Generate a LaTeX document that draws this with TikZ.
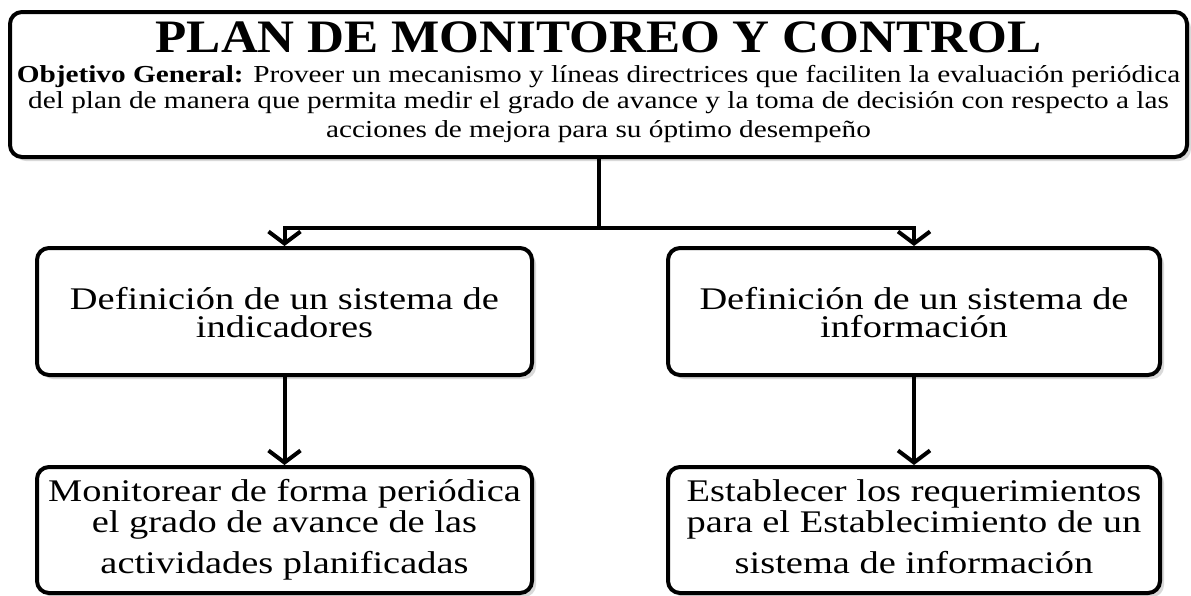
\documentclass[tikz,border=0pt]{standalone}
\usepackage{fontspec}
\setmainfont{Liberation Serif}
\newfontfamily\titlefont[FakeStretch=1.1]{Liberation Serif}
\newfontfamily\objfont[FakeStretch=1.2]{Liberation Serif}
\newfontfamily\bodyfont[FakeStretch=1.22]{Liberation Serif}
\usetikzlibrary{arrows.meta,shadows}
% centred lines with a fixed baseline pitch; baseline of the block = first line
\newcommand\mylines[2]{\vtop{\baselineskip=#1\lineskiplimit=-\maxdimen\lineskip=0pt
  \halign{\hfil##\hfil\cr#2\crcr}}}
\tikzset{
  box/.style={draw=black,line width=4pt,rounded corners=12pt,fill=white,inner sep=0pt,
    drop shadow={shadow xshift=4pt,shadow yshift=-4pt,fill=black!15,opacity=1}},
  conn/.style={draw=black,line width=4pt,line join=miter},
  arrowconn/.style={conn,-{Straight Barb[length=12pt,width=32pt]}},
  ttl/.style={anchor=base,inner sep=0pt,font=\titlefont\bfseries\fontsize{46.5}{46}\selectfont},
  obj/.style={anchor=base,inner sep=0pt,font=\objfont\fontsize{24.4}{26}\selectfont},
  txt/.style={anchor=base,inner sep=0pt,font=\bodyfont\fontsize{31.5}{28}\selectfont}
}
\begin{document}
\begin{tikzpicture}[x=1pt,y=-1pt]
\useasboundingbox[fill=white] (0,0) rectangle (1191,595);
% boxes
\node[box,minimum width=1177pt,minimum height=145pt] (top) at (598.5,84.5) {};
\node[box,minimum width=495pt,minimum height=127pt] (ml) at (284.5,311.5) {};
\node[box,minimum width=492pt,minimum height=127pt] (mr) at (914,311.5) {};
\node[box,minimum width=495pt,minimum height=126pt] (bl) at (284.5,530) {};
\node[box,minimum width=492pt,minimum height=126pt] (br) at (914,530) {};
% top texts
\node[ttl] (title) at (598.5,52) {PLAN DE MONITOREO Y CONTROL};
\node[obj] (o1) at (598.5,82) {\textbf{Objetivo General:} Proveer un mecanismo y líneas directrices que faciliten la evaluación periódica};
\node[obj] (o2) at (598.5,108) {del plan de manera que permita medir el grado de avance y la toma de decisión con respecto a las};
\node[obj] (o3) at (598.5,137) {acciones de mejora para su óptimo desempeño};
% middle texts
\node[txt] (mlt) at (284.5,309) {\mylines{28pt}{Definición de un sistema de\cr indicadores}};
\node[txt] (mrt) at (914,309) {\mylines{28pt}{Definición de un sistema de\cr información}};
% bottom texts
\node[txt] (blt) at (284.5,501) {\mylines{31pt}{Monitorear de forma periódica\cr el grado de avance de las\cr\noalign{\vskip10pt} actividades planificadas}};
\node[txt] (brt) at (914,501) {\mylines{31pt}{Establecer los requerimientos\cr para el Establecimiento de un\cr\noalign{\vskip10pt} sistema de información}};
% connectors
\coordinate (j) at (598.5,228);
\draw[conn] (top.south) -- (j);
\draw[arrowconn] (j) -| (ml.north);
\draw[arrowconn] (j) -| (mr.north);
\draw[arrowconn] (ml.south) -- (bl.north);
\draw[arrowconn] (mr.south) -- (br.north);
\end{tikzpicture}
\end{document}
